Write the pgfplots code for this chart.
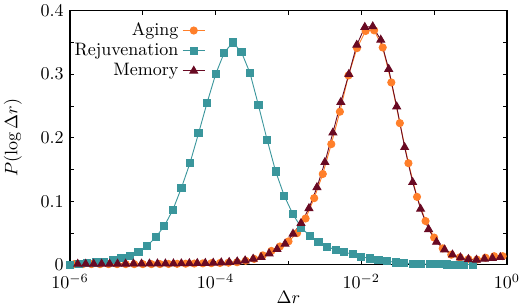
\documentclass[border=0pt]{standalone}
\usepackage{pgfplots}
\usepackage{pgfplotstable}
\pgfplotsset{compat=1.18}

\definecolor{aging}{RGB}{255,127,42}
\definecolor{rejuv}{RGB}{58,150,156}
\definecolor{memory}{RGB}{105,10,35}

% log10(dr)  P(log dr)
\pgfplotstableread{
lx y
-5.941 0.0012
-5.824 0.0012
-5.706 0.0012
-5.588 0.0012
-5.471 0.0012
-5.353 0.0012
-5.235 0.0012
-5.118 0.0012
-5.000 0.0012
-4.882 0.0012
-4.765 0.0013
-4.647 0.0015
-4.529 0.0017
-4.412 0.0019
-4.294 0.0021
-4.176 0.0024
-4.059 0.0027
-3.941 0.0030
-3.824 0.0035
-3.706 0.0042
-3.588 0.0065
-3.471 0.0094
-3.353 0.0150
-3.235 0.0220
-3.118 0.0290
-3.000 0.0370
-2.882 0.0500
-2.765 0.0730
-2.647 0.1050
-2.529 0.1430
-2.412 0.1900
-2.294 0.2410
-2.176 0.2980
-2.059 0.3410
-1.941 0.3680
-1.824 0.3690
-1.706 0.3420
-1.588 0.2870
-1.471 0.2230
-1.353 0.1600
-1.235 0.1070
-1.118 0.0690
-1.000 0.0430
-0.882 0.0260
-0.765 0.0160
-0.647 0.0118
-0.529 0.0090
-0.412 0.0083
-0.294 0.0113
-0.176 0.0137
-0.059 0.0137
}\aging

\pgfplotstableread{
lx y
-6.000 0.0005
-5.882 0.0010
-5.765 0.0030
-5.647 0.0040
-5.529 0.0050
-5.412 0.0080
-5.294 0.0105
-5.176 0.0140
-5.059 0.0210
-4.941 0.0300
-4.824 0.0435
-4.706 0.0610
-4.588 0.0865
-4.471 0.1210
-4.353 0.1600
-4.235 0.2070
-4.118 0.2550
-4.000 0.3000
-3.882 0.3340
-3.765 0.3500
-3.647 0.3350
-3.529 0.3020
-3.412 0.2510
-3.294 0.1970
-3.176 0.1470
-3.059 0.1090
-2.941 0.0800
-2.824 0.0587
-2.706 0.0456
-2.588 0.0357
-2.471 0.0288
-2.353 0.0236
-2.235 0.0200
-2.118 0.0168
-2.000 0.0130
-1.882 0.0100
-1.765 0.0080
-1.647 0.0060
-1.529 0.0040
-1.412 0.0030
-1.294 0.0020
-1.176 0.0015
-1.059 0.0010
-0.941 0.0010
-0.824 0.0008
-0.706 0.0005
-0.588 0.0005
-0.471 0.0005
}\rejuv

\pgfplotstableread{
lx y
-5.894 0.0015
-5.785 0.0015
-5.675 0.0015
-5.566 0.0016
-5.456 0.0016
-5.347 0.0017
-5.237 0.0017
-5.128 0.0018
-5.018 0.0018
-4.909 0.0019
-4.799 0.0020
-4.690 0.0020
-4.580 0.0021
-4.471 0.0022
-4.361 0.0024
-4.252 0.0026
-4.142 0.0028
-4.033 0.0031
-3.923 0.0036
-3.814 0.0043
-3.704 0.0052
-3.595 0.0068
-3.485 0.0094
-3.376 0.0120
-3.266 0.0178
-3.157 0.0247
-3.047 0.0330
-2.938 0.0488
-2.828 0.0656
-2.719 0.0890
-2.609 0.1220
-2.500 0.1615
-2.390 0.2080
-2.281 0.2560
-2.171 0.3000
-2.062 0.3460
-1.952 0.3740
-1.843 0.3750
-1.733 0.3540
-1.624 0.3080
-1.514 0.2490
-1.405 0.1850
-1.295 0.1300
-1.186 0.0880
-1.076 0.0560
-0.967 0.0360
-0.857 0.0240
-0.748 0.0160
-0.638 0.0115
-0.529 0.0090
-0.419 0.0079
-0.310 0.0094
-0.200 0.0105
-0.091 0.0120
}\memory

\begin{document}
\begin{tikzpicture}
\begin{axis}[
  name=ax,
  scale only axis,
  width=242.8pt, height=141.3pt,
  xmin=-6, xmax=0, ymin=0, ymax=0.4,
  xtick={-6,-5,-4,-3,-2,-1,0},
  xticklabels={$10^{-6}$,,$10^{-4}$,,$10^{-2}$,,$10^{0}$},
  xticklabel style={yshift=-1.5pt},
  ytick={0,0.05,0.1,0.15,0.2,0.25,0.3,0.35,0.4},
  yticklabels={$0$,,$0.1$,,$0.2$,,$0.3$,,$0.4$},
  tick align=inside,
  major tick length=2.2pt,
  tick style={black, line width=0.5pt},
  axis line style={line width=0.6pt},
  xlabel={$\Delta r$},
  ylabel={$P(\log\Delta r)$},
  xlabel style={at={(axis description cs:0.5,-0.126)}, anchor=center},
  ylabel style={at={(axis description cs:-0.1305,0.5)}, anchor=center},
  legend cell align=right,
  legend plot pos=right,
  legend style={draw=none, fill=none, inner sep=1pt,
    at={(axis description cs:0.315,0.975)}, anchor=north east,
    row sep=-1.2pt},
  legend image code/.code={%
    \draw[mark repeat=2,mark phase=2] plot coordinates {(0cm,0cm) (0.22cm,0cm) (0.44cm,0cm)};},
]
\addplot[aging, line width=0.5pt, mark=*, mark size=2pt,
  mark options={fill=aging, draw=aging}] table[x=lx, y=y] {\aging};
\addlegendentry{Aging}
\addplot[rejuv, line width=0.5pt, mark=square*, mark size=2pt,
  mark options={fill=rejuv, draw=rejuv}] table[x=lx, y=y] {\rejuv};
\addlegendentry{Rejuvenation}
\addplot[memory, line width=0.5pt, mark=triangle*, mark size=2.5pt,
  mark options={fill=memory, draw=memory}] table[x=lx, y=y] {\memory};
\addlegendentry{Memory}
\end{axis}
\pgfresetboundingbox
\path[use as bounding box]
  ([xshift=-38.9pt,yshift=-23.3pt]ax.south west)
  rectangle ([xshift=7.8pt,yshift=5.9pt]ax.north east);
\end{tikzpicture}
\end{document}
